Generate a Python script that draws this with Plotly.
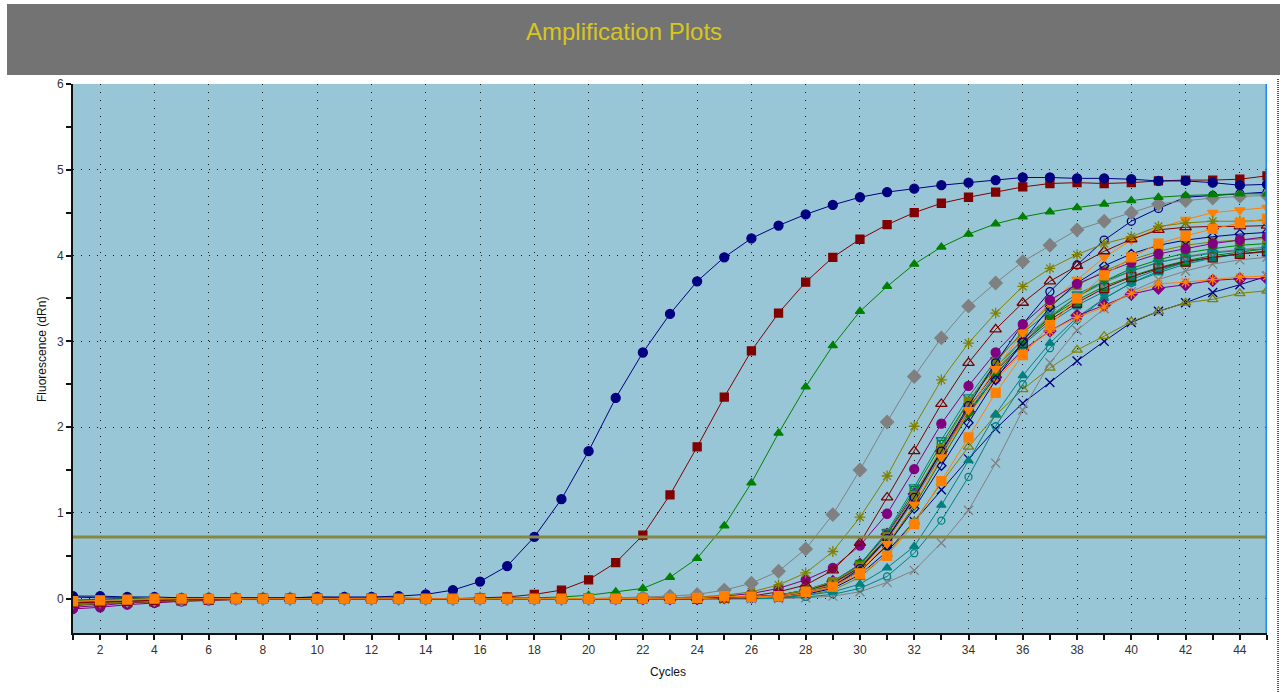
import plotly.graph_objects as go

cycles = list(range(1, 46))

navy_circle = [0.03,0.03,0.02,0.02,0.01,0.01,0.01,0.01,0.01,0.02,0.02,0.02,
               0.03,0.05,0.10,0.20,0.38,0.72,1.16,1.72,2.34,2.87,3.32,3.70,
               3.98,4.20,4.35,4.48,4.59,4.68,4.74,4.78,4.82,4.85,4.88,4.91,
               4.91,4.90,4.90,4.89,4.87,4.87,4.85,4.82,4.83]
darkred_square = [-0.05,-0.04,-0.03,-0.02,-0.01,-0.01,0,0,0,0,0,0,
                  0,0,0,0.01,0.02,0.05,0.10,0.22,0.42,0.74,1.21,1.77,
                  2.35,2.89,3.33,3.69,3.98,4.19,4.36,4.50,4.61,4.68,4.74,4.80,
                  4.84,4.85,4.84,4.85,4.87,4.88,4.88,4.89,4.93]
green_triangle = [-0.02,-0.01,0,0,0.01,0.01,0.01,0.01,0.01,0.02,0.01,0.01,
                  0.01,0,0,0,0.01,0.01,0.02,0.04,0.08,0.12,0.25,0.47,
                  0.85,1.35,1.93,2.47,2.95,3.35,3.64,3.90,4.10,4.25,4.37,4.45,
                  4.51,4.56,4.60,4.64,4.68,4.70,4.71,4.72,4.72]
gray_diamond = [-0.03,-0.02,-0.02,-0.01,-0.01,0,0,0,0,0,0,0,
                0,0,0,0,0,0,0,0,0.01,0.02,0.03,0.05,
                0.10,0.18,0.32,0.58,0.98,1.50,2.06,2.59,3.04,3.41,3.68,3.93,
                4.12,4.30,4.40,4.50,4.60,4.64,4.67,4.69,4.70]
olive_asterisk = [-0.06,-0.05,-0.04,-0.03,-0.02,-0.01,-0.01,0,0,0,0,0,
                  0,0,0,0,0,0,0,0,0,0.01,0.01,0.02,
                  0.04,0.08,0.16,0.30,0.55,0.95,1.43,2.01,2.55,2.98,3.33,3.64,
                  3.85,4.01,4.14,4.22,4.34,4.38,4.40,4.40,4.41]
darkred_open_tri = [-0.04,-0.04,-0.03,-0.02,-0.02,-0.01,-0.01,0,0,0,0,0,
                    0,0,0,0,0,0,0,0,0,0,0.01,0.01,
                    0.02,0.03,0.08,0.16,0.33,0.65,1.18,1.72,2.27,2.75,3.14,3.45,
                    3.70,3.88,4.05,4.19,4.30,4.33,4.34,4.34,4.35]
purple_circle = [-0.12,-0.10,-0.07,-0.05,-0.03,-0.02,-0.01,0,0,0,0,0,
                 0,0,0,0,0,0,0,0,0,0,0.01,0.02,
                 0.03,0.06,0.12,0.22,0.36,0.62,0.99,1.51,2.04,2.48,2.87,3.20,
                 3.48,3.67,3.80,3.92,4.02,4.08,4.14,4.18,4.22]
navy_open_circle = [0.02,0.01,0.01,0,0,0,0,0,0,0,0,0,
                    0,0,0,0,0,0,0,0,0,0,0,0,
                    0.01,0.01,0.02,0.06,0.14,0.35,0.70,1.18,1.72,2.25,2.75,3.20,
                    3.58,3.89,4.18,4.40,4.55,4.68,4.70,4.72,4.74]
orange_inv_tri = [-0.05,-0.04,-0.02,-0.01,0,0,0,0,0,0,0,0,
                  0,0,0,0,0,0,0,0,0,0,0,0,
                  0.01,0.01,0.02,0.06,0.14,0.32,0.64,1.10,1.65,2.20,2.68,3.10,
                  3.45,3.72,3.98,4.18,4.32,4.42,4.50,4.53,4.56]
teal_open_inv_tri = [-0.04,-0.03,-0.02,-0.01,0,0.01,0.01,0.01,0.01,0.01,0,0,
                     0,0,0,0,0,0,0,0,0,0,0,0,
                     0.01,0.02,0.04,0.10,0.20,0.40,0.78,1.30,1.85,2.35,2.78,3.10,
                     3.35,3.55,3.70,3.82,3.92,3.98,4.03,4.06,4.08]
green_inv_tri = [-0.03,-0.02,-0.01,0,0.01,0.01,0.01,0,0,0,0,0,
                 0,0,0,0,0,0,0,0,0,0,0,0,
                 0.01,0.01,0.03,0.08,0.15,0.32,0.62,1.08,1.62,2.15,2.60,2.98,
                 3.28,3.52,3.70,3.85,3.95,4.03,4.08,4.12,4.14]
darkred_open_square = [-0.06,-0.05,-0.04,-0.03,-0.02,-0.01,0,0,0,0,0,0,
                       0,0,0,0,0,0,0,0,0,0,0,0,
                       0.01,0.02,0.04,0.10,0.18,0.37,0.70,1.18,1.72,2.22,2.65,2.98,
                       3.25,3.45,3.62,3.75,3.85,3.93,3.98,4.02,4.05]
teal_triangle = [-0.03,-0.02,-0.02,-0.01,-0.01,0,0,0,0,0,0,0,
                 0,0,0,0,0,0,0,0,0,0,0,0,
                 0,0,0.01,0.04,0.08,0.17,0.36,0.61,1.09,1.61,2.15,2.60,
                 2.98,3.28,3.50,3.68,3.80,3.90,3.97,4.02,4.05]
teal_open_circle = [-0.02,-0.02,-0.01,-0.01,0,0,0,0,0,0,0,0,
                    0,0,0,0,0,0,0,0,0,0,0,0,
                    0,0,0.01,0.02,0.05,0.12,0.26,0.53,0.91,1.42,2.01,2.50,
                    2.92,3.25,3.50,3.68,3.82,3.92,3.98,4.02,4.05]
gray_x = [-0.04,-0.03,-0.02,-0.02,-0.01,-0.01,0,0,0,0,0,0,
          0,0,0,0,0,0,0,0,0,0,0,0,
          0,0,0,0.01,0.03,0.08,0.19,0.33,0.65,1.03,1.58,2.20,
          2.75,3.13,3.38,3.58,3.72,3.82,3.90,3.95,3.98]
navy_x = [-0.08,-0.06,-0.04,-0.03,-0.02,-0.01,-0.01,0,0,0,0,0,
          0,0,0,0,0,0,0,0,0,0,0,0,
          0,0.01,0.02,0.05,0.12,0.28,0.55,0.90,1.27,1.63,1.98,2.28,
          2.52,2.77,3.00,3.22,3.35,3.45,3.57,3.66,3.76]
olive_open_tri = [-0.07,-0.06,-0.05,-0.04,-0.03,-0.02,-0.01,-0.01,0,0,0,0,
                  0,0,0,0,0,0,0,0,0,0,0,0,
                  0,0.01,0.02,0.04,0.10,0.25,0.52,0.90,1.35,1.77,2.14,2.44,
                  2.69,2.90,3.06,3.23,3.35,3.45,3.49,3.56,3.59]
orange_asterisk = [-0.04,-0.03,-0.02,-0.01,0,0,0,0,0,0,0,0,
                   0,0,0,0,0,0,0,0,0,0,0,0,
                   0.01,0.01,0.03,0.08,0.16,0.34,0.68,1.15,1.68,2.15,2.55,2.88,
                   3.12,3.28,3.40,3.56,3.67,3.69,3.72,3.75,3.76]
purple_diamond = [-0.10,-0.08,-0.05,-0.03,-0.02,-0.01,0,0,0,0,0,0,
                  0,0,0,0,0,0,0,0,0,0,0,0,
                  0.01,0.02,0.04,0.10,0.20,0.40,0.75,1.22,1.72,2.18,2.58,2.90,
                  3.12,3.30,3.42,3.55,3.62,3.66,3.71,3.73,3.73]
olive_square = [-0.05,-0.04,-0.03,-0.02,-0.01,0,0,0,0,0,0,0,
                0,0,0,0,0,0,0,0,0,0,0,0,
                0.01,0.02,0.04,0.10,0.20,0.38,0.72,1.20,1.75,2.30,2.75,3.12,
                3.42,3.65,3.82,3.95,4.05,4.12,4.16,4.18,4.20]
gray_square = [-0.03,-0.03,-0.02,-0.01,0,0,0,0,0,0,0,0,
               0,0,0,0,0,0,0,0,0,0,0,0,
               0.01,0.02,0.03,0.08,0.17,0.35,0.68,1.15,1.70,2.22,2.66,3.02,
               3.30,3.52,3.68,3.82,3.92,3.99,4.04,4.07,4.10]
navy_open_diamond = [-0.02,-0.01,0,0,0,0,0,0,0,0,0,0,
                     0,0,0,0,0,0,0,0,0,0,0,0,
                     0.01,0.01,0.03,0.07,0.15,0.32,0.62,1.05,1.55,2.05,2.55,3.00,
                     3.40,3.68,3.88,4.02,4.12,4.18,4.22,4.25,4.27]
green_open_square = [-0.04,-0.03,-0.02,-0.01,0,0,0,0,0,0,0,0,
                     0,0,0,0,0,0,0,0,0,0,0,0,
                     0.01,0.02,0.04,0.09,0.19,0.40,0.76,1.26,1.80,2.30,2.70,3.02,
                     3.28,3.48,3.64,3.76,3.86,3.94,4.00,4.04,4.08]
teal_square = [-0.03,-0.02,-0.01,-0.01,0,0,0,0,0,0,0,0,
               0,0,0,0,0,0,0,0,0,0,0,0,
               0.01,0.02,0.04,0.09,0.18,0.36,0.70,1.16,1.68,2.18,2.62,2.96,
               3.22,3.42,3.58,3.72,3.84,3.92,3.98,4.02,4.04]
orange_square = [-0.03,-0.02,-0.01,0,0,0,0,0,0,0,0,0,
                 0,0,0,0,0,0,0,0,0,0,0,0.01,
                 0.03,0.02,0.03,0.08,0.14,0.29,0.50,0.87,1.37,1.88,2.40,2.84,
                 3.19,3.50,3.77,3.98,4.14,4.23,4.31,4.38,4.43]

threshold = 0.72
x_ticks = list(range(2, 45, 2))
y_ticks = [0, 1, 2, 3, 4, 5, 6]

NAVY, DRED, GREEN, GRAY = "#000080", "#800000", "#008000", "#808080"
OLIVE, PURPLE, TEAL, ORANGE = "#808000", "#800080", "#008080", "#FF8000"

series = [
    (navy_x, NAVY, "x-thin-open", 9),
    (olive_open_tri, OLIVE, "triangle-up-open", 9),
    (gray_x, GRAY, "x-thin-open", 9),
    (teal_open_circle, TEAL, "circle-open", 7),
    (teal_triangle, TEAL, "triangle-up", 8),
    (purple_diamond, PURPLE, "diamond", 9),
    (orange_asterisk, ORANGE, "asterisk-open", 9),
    (teal_square, TEAL, "square", 7),
    (green_open_square, GREEN, "square-open", 8),
    (gray_square, GRAY, "square", 8),
    (darkred_open_square, DRED, "square-open", 9),
    (green_inv_tri, GREEN, "triangle-down", 8),
    (teal_open_inv_tri, TEAL, "triangle-down-open", 9),
    (olive_square, OLIVE, "square", 8),
    (navy_open_diamond, NAVY, "diamond-open", 7),
    (navy_open_circle, NAVY, "circle-open", 8),
    (orange_inv_tri, ORANGE, "triangle-down", 9),
    (purple_circle, PURPLE, "circle", 9),
    (darkred_open_tri, DRED, "triangle-up-open", 10),
    (olive_asterisk, OLIVE, "asterisk-open", 9),
    (gray_diamond, GRAY, "diamond", 10),
    (green_triangle, GREEN, "triangle-up", 8),
    (darkred_square, DRED, "square", 8),
    (navy_circle, NAVY, "circle", 9),
    (orange_square, ORANGE, "square", 9),
]

fig = go.Figure()
for vals, col, sym, sz in series:
    fig.add_trace(go.Scatter(
        x=cycles, y=vals, mode="lines+markers",
        line=dict(color=col, width=1),
        marker=dict(symbol=sym, size=sz, color=col,
                    line=dict(color=col, width=1.3)),
        showlegend=False, hoverinfo="x+y"))

L, R, T, B = 73, 19, 84, 59
W, H = 1286, 692
pw, ph = W - L - R, H - T - B

def px_x(px):
    return (px - L) / pw

def px_y(py):
    return (H - B - py) / ph

shapes = [
    dict(type="rect", xref="paper", yref="paper", x0=px_x(7), x1=px_x(1280),
         y0=px_y(75), y1=px_y(4), fillcolor="#737373", line=dict(width=0), layer="below"),
    dict(type="line", xref="x", yref="y", x0=1, x1=45, y0=threshold, y1=threshold,
         line=dict(color="#868645", width=3)),
    dict(type="line", xref="x", yref="paper", x0=45, x1=45, y0=0, y1=1,
         line=dict(color="#1E88F0", width=3)),
    dict(type="line", xref="paper", yref="paper", x0=px_x(1278), x1=px_x(1278),
         y0=px_y(692), y1=px_y(78), line=dict(color="#555555", width=2, dash="1px,1px")),
]

annotations = [
    dict(text="Amplification Plots", xref="paper", yref="paper",
         x=px_x(624), y=px_y(31), xanchor="center", yanchor="middle", showarrow=False,
         font=dict(family="Liberation Sans, Arial", size=24, color="#D8C620")),
    dict(text="Fluorescence (dRn)", xref="paper", yref="paper",
         x=px_x(42), y=px_y(350), xanchor="center", yanchor="middle",
         showarrow=False, textangle=-90,
         font=dict(family="Liberation Sans, Arial", size=12, color="#111111")),
    dict(text="Cycles", xref="paper", yref="paper",
         x=px_x(668), y=px_y(672), xanchor="center", yanchor="middle", showarrow=False,
         font=dict(family="Liberation Sans, Arial", size=12, color="#111111")),
]

grid_common = dict(showgrid=True, gridcolor="#1a1a1a", gridwidth=1, griddash="1px,7px",
                   showline=True, linecolor="#111111", linewidth=2,
                   ticks="outside", ticklen=5, tickcolor="#111111", tickwidth=1.5,
                   zeroline=False,
                   tickfont=dict(family="Liberation Sans, Arial", size=12, color="#333333"))

fig.update_layout(
    width=W, height=H,
    margin=dict(l=L, r=R, t=T, b=B, pad=0),
    paper_bgcolor="white", plot_bgcolor="#99C6D6",
    shapes=shapes, annotations=annotations,
    xaxis=dict(range=[1, 45], tickvals=x_ticks, ticktext=[str(v) for v in x_ticks],
               minor=dict(dtick=1, tick0=1, ticks="outside", ticklen=5, tickcolor="#111111",
                          showgrid=False),
               **grid_common),
    yaxis=dict(range=[-0.4, 6], tickvals=y_ticks, ticktext=[str(v) for v in y_ticks],
               minor=dict(dtick=0.5, tick0=0, ticks="outside", ticklen=5, tickcolor="#111111",
                          showgrid=False),
               **grid_common),
)

fig.write_html("out.html", config={"displayModeBar": False},
               post_script="document.body.style.margin='0';document.body.style.overflow='hidden';")
